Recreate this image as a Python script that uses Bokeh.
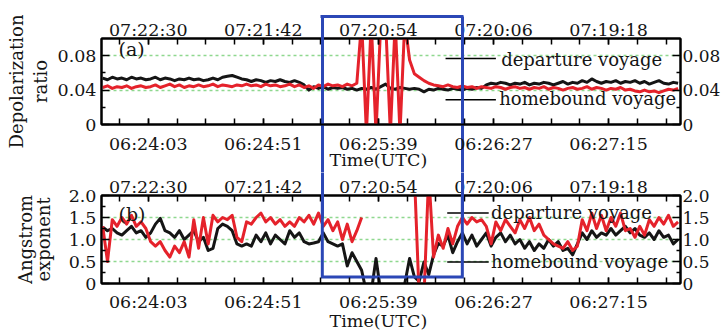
import numpy as np
from bokeh.plotting import figure
from bokeh.layouts import column
from bokeh.models import LinearAxis, FixedTicker, Range1d
from bokeh.core.properties import value
from bokeh.embed import file_html
from bokeh.resources import INLINE

FONT = "DejaVu Serif"
RED = "#e5222b"
BLUE = "#2b47b6"
GRID = "#8fd88f"
INK = "#151515"

# ---------------- data ----------------
# sample times: seconds of day (UTC, departure clock), 2 s resolution from 06:23:44
t_start = 23024
n_samples = 121
times = [t_start + 2 * i for i in range(n_samples)]

bottom_labels = ["06:24:03", "06:24:51", "06:25:39", "06:26:27", "06:27:15"]
top_labels = ["07:22:30", "07:21:42", "07:20:54", "07:20:06", "07:19:18"]
x_title = "Time(UTC)"

dep_ticks = [0, 0.04, 0.08]
dep_minor = [0.02, 0.06]
dep_labels = ["0", "0.04", "0.08"]
ang_ticks = [0, 0.5, 1.0, 1.5, 2.0]
ang_minor = [0.25, 0.75, 1.25, 1.75]
ang_labels = ["0", "0.5", "1.0", "1.5", "2.0"]

# (a) depolarization ratio
dep_homebound = [
    0.054, 0.052, 0.055, 0.053, 0.054, 0.052, 0.055, 0.053, 0.054, 0.052,
    0.053, 0.055, 0.052, 0.054, 0.053, 0.051, 0.053, 0.052, 0.054, 0.052,
    0.053, 0.051, 0.052, 0.054, 0.052, 0.055, 0.056, 0.057, 0.055, 0.053,
    0.052, 0.050, 0.052, 0.051, 0.049, 0.051, 0.050, 0.052, 0.050, 0.049,
    0.051, 0.049, 0.046, 0.040, 0.044, 0.042, 0.044, 0.041, 0.043, 0.042,
    0.043, 0.041, 0.042, 0.040, 0.042, 0.041, 0.043, 0.041, 0.044, 0.047,
    0.042, 0.041, 0.043, 0.042, 0.041, 0.042, 0.041, 0.038, 0.041, 0.040,
    0.042, 0.041, 0.040, 0.042, 0.041, 0.040, 0.042, 0.041, 0.043, 0.042,
    0.046, 0.048, 0.047, 0.049, 0.048, 0.046, 0.048, 0.047, 0.049, 0.046,
    0.048, 0.047, 0.049, 0.048, 0.046, 0.048, 0.050, 0.047, 0.049, 0.048,
    0.051, 0.049, 0.053, 0.050, 0.048, 0.050, 0.049, 0.051, 0.048, 0.050,
    0.049, 0.051, 0.048, 0.050, 0.047, 0.049, 0.051, 0.048, 0.047, 0.049,
    0.048,
]
dep_departure = [
    0.043, 0.045, 0.042, 0.044, 0.043, 0.045, 0.042, 0.044, 0.045, 0.043,
    0.044, 0.046, 0.043, 0.045, 0.047, 0.044, 0.046, 0.043, 0.045, 0.044,
    0.046, 0.044, 0.045, 0.047, 0.044, 0.046, 0.045, 0.044, 0.046, 0.045,
    0.047, 0.045, 0.046, 0.044, 0.047, 0.045, 0.046, 0.044, 0.045, 0.047,
    0.044, 0.046, 0.043, 0.045, 0.042, 0.046, 0.044, 0.047, 0.045, 0.046,
    0.044, 0.047, 0.045, 0.048, 0.120, -0.010, 0.120, -0.010, 0.120, 0.120,
    -0.010, 0.120, -0.010, 0.120, 0.075, 0.059, 0.055, 0.051, 0.048, 0.046,
    0.045, 0.044, 0.046, 0.044, 0.043, 0.045, 0.043, 0.044, 0.042, 0.044,
    0.043, 0.042, 0.044, 0.043, 0.041, 0.043, 0.044, 0.042, 0.043, 0.041,
    0.043, 0.042, 0.044, 0.041, 0.043, 0.042, 0.040, 0.042, 0.043, 0.041,
    0.042, 0.044, 0.041, 0.043, 0.042, 0.040, 0.042, 0.041, 0.043, 0.040,
    0.041, 0.039, 0.038, 0.040, 0.038, 0.039, 0.037, 0.039, 0.041, 0.040,
    0.042,
]

# (b) Angstrom exponent
nan = float("nan")
ang_homebound = [
    1.28, 1.20, 1.25, 1.15, 1.10, 1.20, 1.30, 1.15, 1.20, 1.05,
    1.15, 1.35, 1.48, 1.20, 1.15, 1.05, 1.20, 1.00, 1.10, 1.20,
    0.95, 1.05, 0.75, 0.80, 1.25, 1.35, 1.30, 1.20, 0.90, 0.85,
    0.90, 0.85, 1.10, 0.95, 1.15, 0.90, 1.10, 1.00, 0.90, 1.20,
    1.05, 1.15, 0.95, 0.90, 0.92, 0.95, 1.15, 0.95, 0.90, 0.85,
    0.90, 0.40, 0.70, 0.50, 0.30, -0.20, -0.20, 0.57, -0.20, -0.20,
    -0.20, -0.20, -0.20, 0.00, 0.57, 0.15, 0.05, 0.49, 0.20, 0.65,
    0.91, 0.85, 1.10, 0.70, 0.95, 1.15, 0.90, 1.10, 0.85, 1.00,
    1.15, 0.85, 1.05, 1.15, 0.95, 1.10, 0.90, 1.00, 0.80, 0.95,
    0.75, 0.90, 0.80, 1.00, 0.85, 0.95, 0.75, 0.80, 0.65, 0.90,
    1.15, 1.00, 1.20, 1.05, 1.15, 1.10, 1.25, 1.10, 1.20, 1.30,
    1.15, 1.25, 1.10, 1.05, 1.15, 1.00, 1.20, 1.05, 1.10, 0.90,
    1.00,
]
ang_departure = [
    1.30, 0.50, 1.45, 1.30, 1.50, 1.35, 1.55, 1.30, 1.40, 1.25,
    0.95, 0.85, 0.95, 0.75, 0.60, 0.85, 0.70, 0.95, 0.60, 1.45,
    0.80, 1.50, 0.90, 1.55, 1.40, 1.50, 1.45, 1.55, 1.05, 0.95,
    1.40, 1.35, 1.50, 1.60, 1.40, 1.50, 1.35, 1.45, 1.30, 1.40,
    1.30, 1.50, 1.40, 1.55, 1.35, 1.60, 1.30, 1.45, 1.20, 1.40,
    1.00, 1.35, 0.95, 1.20, 1.50, nan, nan, nan, nan, nan,
    nan, nan, nan, nan, nan, 2.50, -0.30, -0.30, 2.50, 0.60,
    1.10, 0.80, 1.25, 0.90, 1.30, 1.50, 1.35, 1.50, 1.40, 1.45,
    1.30, 0.90, 1.40, 1.20, 1.45, 1.30, 1.15, 1.45, 1.25, 1.50,
    1.20, 1.35, 1.10, 1.00, 0.90, 0.85, 0.80, 0.95, 0.75, 0.85,
    1.45, 1.20, 1.60, 1.25, 1.55, 1.20, 1.50, 1.30, 1.60, 1.20,
    1.25, 1.05, 1.30, 1.10, 1.45, 1.30, 1.50, 1.35, 1.55, 1.30,
    1.40,
]

# highlighted interval (seconds of day)
highlight_start = 23115.6
highlight_end = 23174.0
highlight_floor_b = 0.15   # lower edge of the box, in Angstrom units

legend_names = ["departure voyage", "homebound voyage"]


def hms(s):
    h, m, sec = (int(v) for v in s.split(":"))
    return h * 3600 + m * 60 + sec


major_x = [hms(s) for s in bottom_labels]
minor_x = list(range(major_x[0] - 12, 23266, 12))
title_idx = 2
bottom_with_title = [l + ("\n" + x_title if i == title_idx else "")
                     for i, l in enumerate(bottom_labels)]

x_range = Range1d(23023.5, 23265)


def style_axis(ax, ticks, minor, labels, tick_in, minor_in, standoff,
               size="17.5px"):
    ax.ticker = FixedTicker(ticks=ticks, minor_ticks=minor)
    ax.major_label_overrides = {t: l for t, l in zip(ticks, labels)}
    ax.axis_line_width = 2
    ax.axis_line_color = "black"
    ax.major_tick_in = tick_in
    ax.major_tick_out = 0
    ax.minor_tick_in = minor_in
    ax.minor_tick_out = 0
    ax.major_tick_line_width = 1.5
    ax.minor_tick_line_width = 1.5
    ax.major_tick_line_color = "black"
    ax.minor_tick_line_color = "black"
    ax.major_label_standoff = standoff
    ax.major_label_text_font = FONT
    ax.major_label_text_font_size = size
    ax.major_label_text_color = INK


def blue_axis(tick_in, tick_out, show_line):
    ax = LinearAxis(
        ticker=FixedTicker(ticks=[highlight_start, highlight_end],
                           minor_ticks=[]),
        bounds=(highlight_start - 0.6, highlight_end + 0.6))
    ax.axis_line_color = BLUE if show_line else None
    ax.axis_line_width = 3
    ax.major_tick_in = tick_in
    ax.major_tick_out = tick_out
    ax.minor_tick_in = 0
    ax.minor_tick_out = 0
    ax.major_tick_line_color = BLUE
    ax.major_tick_line_width = 3
    ax.major_label_standoff = 0
    ax.major_label_text_font_size = "0px"
    ax.major_label_overrides = {highlight_start: "", highlight_end: ""}
    return ax


def spacer_axis(gap):
    ax = LinearAxis(ticker=FixedTicker(ticks=[], minor_ticks=[]))
    ax.axis_line_color = None
    ax.major_tick_out = gap
    ax.major_tick_in = 0
    ax.minor_tick_out = 0
    ax.minor_tick_in = 0
    ax.major_label_standoff = 0
    ax.major_label_text_font_size = "0px"
    return ax


def make_panel(height, b_top, b_bottom, y_end, yt, ym, yl, ytitle, title_lh,
               title_standoff, top_standoff, bot_standoff, bot_lh,
               homebound, departure, tag, tag_xy, seg_x, seg_y, txt_x, txt_y,
               first):
    p = figure(width=723, height=height, x_range=x_range,
               y_range=Range1d(0, y_end), output_backend="svg",
               toolbar_location=None, min_border_left=101, min_border_right=41,
               min_border_top=b_top, min_border_bottom=b_bottom)
    p.background_fill_color = "white"
    p.border_fill_color = "white"
    p.outline_line_color = "black"
    p.outline_line_width = 2

    xb = p.xaxis[0]
    yl_ax = p.yaxis[0]
    style_axis(xb, major_x, minor_x, bottom_with_title, 6, 6, bot_standoff)
    xb.major_label_text_line_height = bot_lh
    style_axis(yl_ax, yt, ym, yl, 8, 4, 5)
    yl_ax.axis_label = ytitle
    yl_ax.axis_label_standoff = title_standoff
    yl_ax.axis_label_text_line_height = title_lh
    yl_ax.axis_label_text_font = FONT
    yl_ax.axis_label_text_font_style = "normal"
    yl_ax.axis_label_text_font_size = "18px"
    yl_ax.axis_label_text_color = INK

    xt = LinearAxis()
    style_axis(xt, major_x, minor_x, top_labels, 6, 6, top_standoff)
    p.add_layout(xt, "above")
    yr = LinearAxis()
    style_axis(yr, yt, ym, yl, 8, 4, 2, size="17px")
    p.add_layout(yr, "right")

    p.xgrid.visible = False
    p.ygrid.ticker = FixedTicker(ticks=yt)
    p.ygrid.grid_line_color = GRID
    p.ygrid.grid_line_dash = "3 3"
    p.ygrid.grid_line_width = 1.3

    x = np.array(times, dtype=float)
    p.line(x, np.array(homebound, dtype=float), line_color=INK,
           line_width=3, line_join="round")
    p.line(x, np.array(departure, dtype=float), line_color=RED,
           line_width=3, line_join="round")

    p.segment(x0=[seg_x[0], seg_x[0]], y0=seg_y, x1=[seg_x[1], seg_x[1]],
              y1=seg_y, line_color="black", line_width=1.5)
    p.text(x=txt_x, y=txt_y, text=legend_names, text_font=value(FONT),
           text_font_size="18px", text_baseline="middle", text_align="left",
           text_color=INK)
    p.text(x=[tag_xy[0]], y=[tag_xy[1]], text=[tag], text_font=value(FONT),
           text_font_size="19px", text_baseline="middle", text_align="left",
           text_color=INK)

    # highlight box spanning both panels
    if first:
        p.add_layout(spacer_axis(6), "above")
        p.add_layout(blue_axis(220, 0, True), "above")
    else:
        p.add_layout(blue_axis(45, 1, False), "above")
        p.line(x=[highlight_start, highlight_start, highlight_end, highlight_end],
               y=[y_end * 1.5, highlight_floor_b, highlight_floor_b, y_end * 1.5],
               line_color=BLUE, line_width=3, line_join="miter")
    return p


pa = make_panel(172, 38, 5, 0.1, dep_ticks, dep_minor, dep_labels,
                "Depolarization\nratio", 1.1, 4, -1, 9, 0.8,
                dep_homebound, dep_departure,
                "(a)", (23030.6, 0.088),
                (23167.0, 23188.0), [0.0766, 0.0289],
                [23190.2, 23189.4], [0.0754, 0.0300], True)
pb = make_panel(161, 5, 5, 2.0, ang_ticks, ang_minor, ang_labels,
                "Angstrom\nexponent", 0.85, 12, -1, 8, 0.95,
                ang_homebound, ang_departure,
                "(b)", (23030.6, 1.57),
                (23167.7, 23185.0), [1.60, 0.49],
                [23186.0, 23186.0], [1.62, 0.505], False)

layout = column(pa, pb, spacing=0)
open("out.html", "w").write(file_html(layout, INLINE))
